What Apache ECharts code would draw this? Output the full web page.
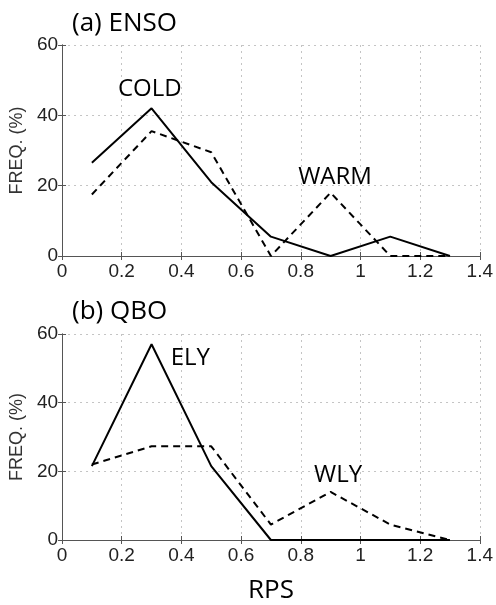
<!DOCTYPE html>
<html><head><meta charset="utf-8">
<script src="https://cdn.jsdelivr.net/npm/echarts@6/dist/echarts.min.js"></script>
<style>html,body{margin:0;padding:0;background:#fff}#c{width:496px;height:605px}</style>
</head><body><div id="c"></div>
<script>
const rps = [0.1, 0.3, 0.5, 0.7, 0.9, 1.1, 1.3];
const ensoCold = [26.5, 42, 21, 5.5, 0, 5.5, 0];
const ensoWarm = [17.5, 35.5, 29.5, 0, 18, 0, 0];
const qboEly = [21.5, 57, 21.5, 0, 0, 0, 0];
const qboWly = [22, 27.3, 27.3, 4.5, 14, 4.5, 0];
const xTicks = [0, 0.2, 0.4, 0.6, 0.8, 1, 1.2, 1.4];
const yTicks = [0, 20, 40, 60];
const annA = [[0.294, 47.5, 'COLD'], [0.915, 22.5, 'WARM']];
const annB = [[0.43, 53, 'ELY'], [0.925, 19, 'WLY']];

const pair = (xs, ys) => xs.map((x, i) => [x, ys[i]]);
const tickFont = {fontFamily: 'Liberation Sans', fontSize: 19, color: '#222'};
const annFont = {fontFamily: 'Open Sans', fontSize: 24, color: '#000'};

function xAx(gi, withName) {
  return [{
    type: 'value', gridIndex: gi, min: xTicks[0], max: xTicks[xTicks.length-1], interval: 0.2,
    axisLine: {show: true, lineStyle: {color: '#555', width: 1}},
    axisTick: {show: true, inside: true, length: 4, lineStyle: {color: '#555'}},
    axisLabel: Object.assign({margin: 6}, tickFont),
    splitLine: {show: true, lineStyle: {type: [2, 4], color: '#c4c4c4', width: 1}},
    name: withName ? 'RPS' : '', nameLocation: 'middle', nameGap: 38,
    nameTextStyle: {fontFamily: 'Open Sans', fontSize: 26, color: '#000'}
  }, {
    type: 'value', gridIndex: gi, position: 'top', min: 0, max: 1.4, interval: 0.2,
    axisLine: {show: true, lineStyle: {color: '#555', width: 1}},
    axisTick: {show: true, inside: true, length: 4, lineStyle: {color: '#555'}},
    axisLabel: {show: false}, splitLine: {show: false}
  }];
}
function yAx(gi) {
  return [{
    type: 'value', gridIndex: gi, min: yTicks[0], max: yTicks[yTicks.length-1], interval: 20,
    axisLine: {show: true, lineStyle: {color: '#555', width: 1}},
    axisTick: {show: true, inside: true, length: 4, lineStyle: {color: '#555'}},
    axisLabel: Object.assign({margin: 4}, tickFont),
    splitLine: {show: true, lineStyle: {type: [2, 4], color: '#c4c4c4', width: 1}},
    name: 'FREQ. (%)', nameLocation: 'middle', nameGap: 32,
    nameTextStyle: {fontFamily: 'Liberation Sans', fontSize: 18, color: '#333'}
  }, {
    type: 'value', gridIndex: gi, position: 'right', min: 0, max: 60, interval: 20,
    axisLine: {show: true, lineStyle: {color: '#555', width: 1}},
    axisTick: {show: true, inside: true, length: 4, lineStyle: {color: '#555'}},
    axisLabel: {show: false}, splitLine: {show: false}
  }];
}
function lineS(xi, yi, data, dashed) {
  return {type: 'line', xAxisIndex: xi, yAxisIndex: yi, data: data, symbol: 'none',
    lineStyle: {color: '#000', width: 2, type: dashed ? [7, 5] : 'solid'}, z: 3, animation: false};
}
function annS(xi, yi, data) {
  return {type: 'scatter', xAxisIndex: xi, yAxisIndex: yi, data: data, symbolSize: 0, animation: false,
    itemStyle: {opacity: 1}, emphasis: {disabled: true}, silent: true,
    label: Object.assign({show: true, position: 'inside', opacity: 1, formatter: p => p.value[2]}, annFont)};
}

const chart = echarts.init(document.getElementById('c'), null, {renderer: 'canvas'});
chart.setOption({
  animation: false,
  title: [
    {text: '(a) ENSO', left: 67, top: 6, textStyle: {fontFamily: 'Open Sans', fontSize: 26, fontWeight: 'normal', color: '#000'}},
    {text: '(b) QBO', left: 67, top: 294, textStyle: {fontFamily: 'Open Sans', fontSize: 26, fontWeight: 'normal', color: '#000'}}
  ],
  grid: [
    {left: 62, top: 45, width: 419, height: 211, show: false},
    {left: 62, top: 334, width: 418, height: 211, show: false}
  ],
  xAxis: [...xAx(0, false), ...xAx(1, true)],
  yAxis: [...yAx(0), ...yAx(1)],
  series: [
    lineS(0, 0, pair(rps, ensoCold), false),
    lineS(0, 0, pair(rps, ensoWarm), true),
    lineS(2, 2, pair(rps, qboEly), false),
    lineS(2, 2, pair(rps, qboWly), true),
    annS(0, 0, annA),
    annS(2, 2, annB)
  ]
});
</script></body></html>
